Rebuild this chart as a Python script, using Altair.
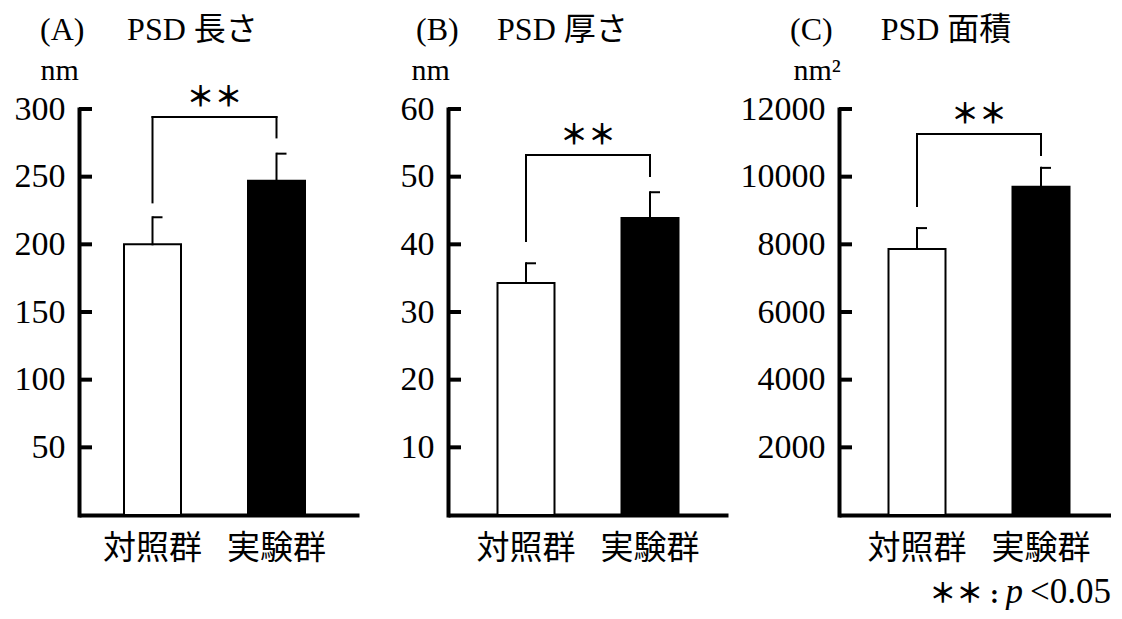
import altair as alt
import pandas as pd

SERIF = "Liberation Serif, Noto Sans CJK JP"
CJK = "Noto Sans CJK JP"

groups = ["対照群", "実験群"]

# Panel values
a_mean = [200, 247]
a_err = [20, 20]
b_mean = [34.3, 43.9]
b_err = [2.9, 3.8]
c_mean = [7860, 9700]
c_err = [620, 560]

# bracket: [left bottom, top, right bottom]
a_bracket = [231, 294, 279]
b_bracket = [40.5, 53.2, 50.1]
c_bracket = [9130, 11260, 10640]

a_ticks = [50, 100, 150, 200, 250, 300]
b_ticks = [10, 20, 30, 40, 50, 60]
c_ticks = [2000, 4000, 6000, 8000, 10000, 12000]

footnote = ["＊＊ :", "p", "<0.05"]

H = 406
STEP = 124.0   # px between bar centres
BW = 57.0      # bar width px


def panel(letter, name, unit, means, errs, bracket, ticks, ymax, extent,
          title_dx, unit_dx, gap, W=280, left=49.5, foot=False):
    df = pd.DataFrame({"group": groups, "value": means,
                       "upper": [m + e for m, e in zip(means, errs)]})
    seg = pd.DataFrame({
        "g1": [groups[0], groups[1], groups[0], groups[0], groups[1]],
        "g2": [groups[0], groups[1], groups[0], groups[1], groups[1]],
        "y1": [means[0], means[1], bracket[0], bracket[1], bracket[2]],
        "y2": [means[0] + errs[0], means[1] + errs[1], bracket[1], bracket[1], bracket[1]],
    })
    star = pd.DataFrame({"top": [bracket[1]], "label": ["＊＊"]})
    tdf = pd.DataFrame({"tick": ticks})

    pi = 1 - BW / STEP
    po = (W / STEP - (2 - pi)) / 2
    al = left / (W - STEP * (2 - pi))
    xscale = alt.Scale(domain=groups, paddingInner=pi, paddingOuter=po, align=al)
    yscale = alt.Scale(domain=[0, ymax], nice=False, zero=True)
    xaxis = alt.Axis(title=None, labelAngle=0, labelFont=CJK, labelFontSize=33,
                     labelPadding=17, ticks=False, tickSize=0, domainWidth=4,
                     domainColor="black", labelColor="black", grid=False)
    yaxis = alt.Axis(title=unit, values=ticks, format="d", labelFont=SERIF, labelFontSize=34,
                     labelPadding=14, ticks=False, tickSize=0, domainWidth=4,
                     domainColor="black", labelColor="black", domainCap="square", grid=False,
                     titleAngle=0, titleX=unit_dx, titleY=-39, titleAlign="left",
                     titleBaseline="middle", titleFont=SERIF, titleFontSize=30,
                     titleFontWeight="normal", titleColor="black",
                     minExtent=extent, maxExtent=extent, labelBaseline="middle")

    bars = alt.Chart(df).mark_bar(stroke="black", strokeWidth=2).encode(
        x=alt.X("group:N", sort=groups, scale=xscale, axis=xaxis),
        y=alt.Y("value:Q", scale=yscale, axis=yaxis),
        fill=alt.Fill("group:N", scale=alt.Scale(domain=groups, range=["white", "black"]), legend=None),
    )
    segs = alt.Chart(seg).mark_rule(stroke="black", strokeWidth=2, strokeCap="square").encode(
        x=alt.X("g1:N", sort=groups, scale=xscale, axis=xaxis, bandPosition=0.5),
        x2=alt.X2("g2", bandPosition=0.5),
        y=alt.Y("y1:Q", scale=yscale, axis=yaxis),
        y2="y2:Q",
    )
    caps = alt.Chart(df).mark_rule(stroke="black", strokeWidth=2, x2Offset=10).encode(
        x=alt.X("group:N", sort=groups, scale=xscale, axis=xaxis, bandPosition=0.5),
        x2=alt.X2("group", bandPosition=0.5),
        y=alt.Y("upper:Q", scale=yscale, axis=yaxis),
    )
    stars = alt.Chart(star).mark_text(font=CJK, fontSize=28, fontWeight="bold", dy=-18,
                                      baseline="middle", align="center", color="black").encode(
        x=alt.value(left + BW / 2 + STEP / 2),
        y=alt.Y("top:Q", scale=yscale, axis=yaxis),
        text="label:N",
    )
    inticks = alt.Chart(tdf).mark_rule(stroke="black", strokeWidth=4).encode(
        x=alt.value(0), x2=alt.value(13),
        y=alt.Y("tick:Q", scale=yscale, axis=yaxis),
    )
    layers = [bars, segs, caps, inticks, stars]
    if foot:
        fd = pd.DataFrame({"a": [footnote[0]], "b": [footnote[1]], "c": [footnote[2]]})
        base = alt.Chart(fd)
        fy = H + 88
        layers += [
            base.mark_text(font=SERIF, fontSize=27, fontWeight="bold", align="right",
                           baseline="alphabetic", color="black")
                .encode(x=alt.value(160), y=alt.value(fy), text="a:N"),
            base.mark_text(font=SERIF, fontSize=35, fontStyle="italic", align="right",
                           baseline="alphabetic", color="black")
                .encode(x=alt.value(184), y=alt.value(fy), text="b:N"),
            base.mark_text(font=SERIF, fontSize=35, align="right", baseline="alphabetic",
                           color="black")
                .encode(x=alt.value(W), y=alt.value(fy), text="c:N"),
        ]
    return alt.layer(*layers).properties(
        width=W, height=H,
        title=alt.TitleParams(text=f"({letter}){gap}PSD {name}", anchor="start",
                              frame="group", dx=title_dx, font=SERIF, fontSize=32,
                              fontWeight="normal", color="black", offset=8),
    )


pa = panel("A", "長さ", "nm", a_mean, a_err, a_bracket, a_ticks, 300, 66, -39, -39,
           "\u2003\u2004", left=45)
pb = panel("B", "厚さ", "nm", b_mean, b_err, b_bracket, b_ticks, 60, 79, -32, -37,
           "\u2003\u2009")
pc = panel("C", "面積", "nm²", c_mean, c_err, c_bracket, c_ticks, 12000, 101, -49, -46,
           "\u2003\u2002", W=272, foot=True)

chart = alt.hconcat(pa, pb, pc, spacing=10).properties(
    padding={"left": 5, "top": 6, "right": 0, "bottom": 0}
).configure_view(stroke=None)

chart.save("out.html", embed_options={"renderer": "svg", "actions": False})
